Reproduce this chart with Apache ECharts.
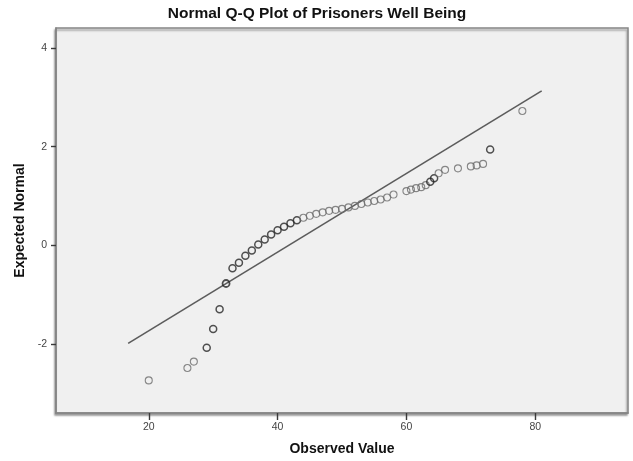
<!DOCTYPE html>
<html>
<head>
<meta charset="utf-8">
<script src="https://cdn.jsdelivr.net/npm/echarts@6/dist/echarts.min.js"></script>
<style>
  html, body { margin: 0; padding: 0; background: #ffffff; }
  #chart { width: 633px; height: 461px; }
</style>
</head>
<body>
<div id="chart"></div>
<script>
// Observed well-being scores (one entry per distinct value)
const observedValues = [20, 26, 27, 29, 30, 31, 32, 33, 34, 35, 36, 37, 38, 39, 40, 41, 42, 43, 44, 45,
  46, 47, 48, 49, 50, 51, 52, 53, 54, 55, 56, 57, 58, 60, 60.7, 61.5, 62.3, 63, 63.7, 64.3, 65, 66,
  68, 70, 70.9, 71.9, 73, 78];
// Expected normal quantile for each observed value
const expectedNormal = [-2.73, -2.48, -2.35, -2.07, -1.69, -1.29, -0.77, -0.46, -0.35, -0.21, -0.10, 0.02,
  0.12, 0.22, 0.31, 0.38, 0.45, 0.51, 0.56, 0.60, 0.64, 0.67, 0.70, 0.72, 0.74, 0.77, 0.80, 0.84, 0.87,
  0.90, 0.93, 0.97, 1.03, 1.10, 1.13, 1.16, 1.18, 1.22, 1.29, 1.36, 1.46, 1.53, 1.56, 1.60, 1.62, 1.65,
  1.94, 2.72];
// Number of cases sharing each value (ties are drawn darker)
const caseCounts = [1, 1, 1, 2, 2, 2, 3, 2, 2, 2, 2, 2, 2, 2, 2, 2, 2, 2, 1, 1,
  1, 1, 1, 1, 1, 1, 1, 1, 1, 1, 1, 1, 1, 1, 1, 1, 1, 1, 2, 2, 1, 1,
  1, 1, 1, 1, 2, 1];

// Reference normal line: mean and standard deviation, drawn over this range
const lineMean = 41.7;
const lineSd = 12.56;
const lineRange = [16.8, 81];

const xTicks = [20, 40, 60, 80];
const yTicks = [-2, 0, 2, 4];
const xExtent = [5.6, 94.4];
const yExtent = [-3.39, 4.40];

const points = observedValues.map((v, i) => ({
  value: [v, expectedNormal[i]],
  itemStyle: {
    borderColor: caseCounts[i] > 1 ? '#262626' : '#6b6b6b',
    borderWidth: caseCounts[i] > 2 ? 1.8 : (caseCounts[i] > 1 ? 1.5 : 1.1)
  }
}));

const linePoints = lineRange.map(x => [x, (x - lineMean) / lineSd]);

const fontFamily = 'Liberation Sans, Arial, sans-serif';
const frameColor = '#858585';

const chart = echarts.init(document.getElementById('chart'), null, { renderer: 'canvas' });
chart.setOption({
  animation: false,
  backgroundColor: '#ffffff',
  title: {
    text: 'Normal Q-Q Plot of Prisoners Well Being',
    left: 317, textAlign: 'center',
    top: 6, padding: 0,
    textStyle: { fontFamily, fontSize: 15.5, fontWeight: 'bold', color: '#111' }
  },
  grid: {
    left: 56, top: 28, right: 5, bottom: 46,
    show: true,
    backgroundColor: '#f0f0f0',
    borderColor: frameColor,
    borderWidth: 1.5,
    shadowColor: 'rgba(0,0,0,0.35)',
    shadowBlur: 2,
    shadowOffsetX: -1,
    shadowOffsetY: 2
  },
  xAxis: {
    type: 'value',
    position: 'bottom',
    z: 10,
    min: xExtent[0], max: xExtent[1],
    name: 'Observed Value',
    nameLocation: 'middle',
    nameGap: 29,
    nameTextStyle: { fontFamily, fontSize: 14, fontWeight: 'bold', color: '#111' },
    axisLine: { show: true, onZero: false, lineStyle: { color: frameColor, width: 1.5 } },
    splitLine: { show: false },
    axisTick: { show: true, inside: false, length: 7, customValues: xTicks, lineStyle: { color: '#3a3a3a', width: 1.4 } },
    axisLabel: { customValues: xTicks, margin: 9, fontFamily, fontSize: 10.5, color: '#444' }
  },
  yAxis: {
    type: 'value',
    z: 10,
    min: yExtent[0], max: yExtent[1],
    name: 'Expected Normal',
    nameLocation: 'middle',
    nameGap: 28,
    nameTextStyle: { fontFamily, fontSize: 14, fontWeight: 'bold', color: '#111' },
    axisLine: { show: true, onZero: false, lineStyle: { color: frameColor, width: 1.5 } },
    splitLine: { show: false },
    axisTick: { show: true, inside: false, length: 5, customValues: yTicks, lineStyle: { color: '#3a3a3a', width: 1.4 } },
    axisLabel: { customValues: yTicks, margin: 9, fontFamily, fontSize: 10.5, color: '#444' }
  },
  series: [
    {
      type: 'line',
      data: linePoints,
      symbol: 'none',
      silent: true,
      lineStyle: { color: '#5c5c5c', width: 1.6 },
      z: 2
    },
    {
      type: 'scatter',
      data: points,
      symbol: 'circle',
      symbolSize: 7,
      itemStyle: { color: 'rgba(0,0,0,0)' },
      z: 3
    }
  ]
});
</script>
</body>
</html>
